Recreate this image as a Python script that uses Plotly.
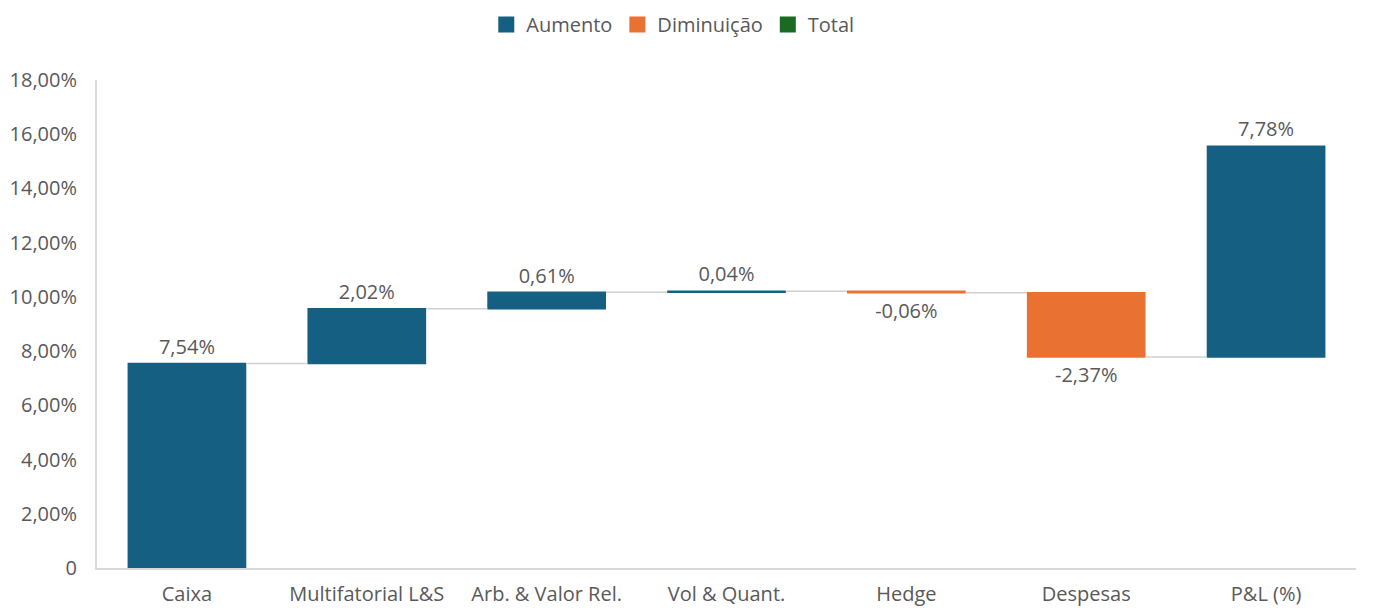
import plotly.graph_objects as go

categories = ["Caixa", "Multifatorial L&S", "Arb. & Valor Rel.", "Vol & Quant.", "Hedge", "Despesas", "P&L (%)"]
values = [7.54, 2.02, 0.61, 0.04, -0.06, -2.37, 7.78]
measures = ["relative"] * 7
y_tickvals = [0, 2, 4, 6, 8, 10, 12, 14, 16, 18]
y_ticktext = ["0", "2,00%", "4,00%", "6,00%", "8,00%", "10,00%", "12,00%", "14,00%", "16,00%", "18,00%"]
legend_names = ["Aumento", "Diminuição", "Total"]
legend_colors = ["#156082", "#E97132", "#196B24"]

FONT = "Open Sans, Noto Sans, sans-serif"
GRAY = "#595959"
FS = 20

labels = [f"{v:.2f}%".replace(".", ",") for v in values]

fig = go.Figure()
fig.add_trace(go.Waterfall(
    x=categories, y=values, measure=measures,
    text=labels, textposition="outside",
    textfont=dict(size=FS, color=GRAY, family=FONT),
    increasing=dict(marker=dict(color=legend_colors[0])),
    decreasing=dict(marker=dict(color=legend_colors[1])),
    totals=dict(marker=dict(color=legend_colors[2])),
    connector=dict(line=dict(color="#d0d0d0", width=1.5)),
    showlegend=False, cliponaxis=False,
))
for name, col in zip(legend_names, legend_colors):
    fig.add_trace(go.Scatter(
        x=[None], y=[None], mode="markers", name=name,
        marker=dict(symbol="square", size=17, color=col),
    ))

fig.update_layout(
    width=1373, height=611,
    margin=dict(l=97, r=17, t=80, b=43, autoexpand=False),
    plot_bgcolor="white", paper_bgcolor="white",
    font=dict(family=FONT, size=FS, color=GRAY),
    waterfallgap=0.34,
    legend=dict(orientation="h", x=0.49, xref="container", xanchor="center",
                y=0.96, yref="container", yanchor="middle",
                font=dict(size=FS, color=GRAY), itemwidth=30, tracegroupgap=0),
)
fig.update_xaxes(showgrid=False, showline=True, linecolor="#d9d9d9", linewidth=2,
                 ticks="", tickfont=dict(size=FS, color=GRAY), ticklabelstandoff=7,
                 automargin=False)
fig.update_yaxes(range=[0, 18], tickvals=y_tickvals, ticktext=y_ticktext,
                 showgrid=False, showline=True, linecolor="#d9d9d9", linewidth=2,
                 zeroline=False, ticks="", tickfont=dict(size=FS, color=GRAY),
                 ticklabelstandoff=14, automargin=False)

fig.write_html("out.html")
